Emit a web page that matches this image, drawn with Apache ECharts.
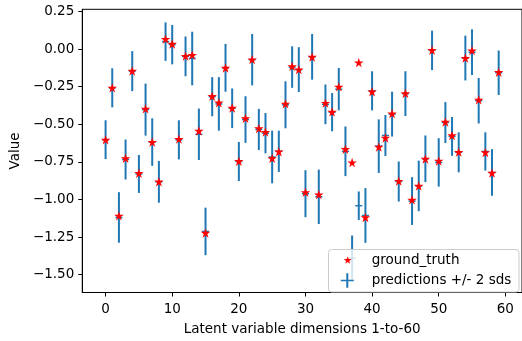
<!DOCTYPE html>
<html><head><meta charset="utf-8">
<script src="https://cdn.jsdelivr.net/npm/echarts@6/dist/echarts.min.js"></script>
<style>html,body{margin:0;padding:0;background:#fff}#c{width:522px;height:341px}</style>
</head><body><div id="c"></div>
<script>
const dims = [0,1,2,3,4,5,6,7,8,9,10,11,12,13,14,15,16,17,18,19,20,21,22,23,24,25,26,27,28,29,
  30,31,32,33,34,35,36,37,38,39,40,41,42,43,44,45,46,47,48,49,50,51,52,53,54,55,56,57,58,59];
const xTicks = [0,10,20,30,40,50,60];
const yTicks = [-1.5,-1.25,-1,-0.75,-0.5,-0.25,0,0.25];
const groundTruth = [-0.604,-0.258,-1.109,-0.727,-0.146,-0.826,-0.398,-0.619,-0.882,0.066,
  0.034,-0.599,-0.047,-0.04,-0.545,-1.223,-0.314,-0.357,-0.126,-0.392,
  -0.746,-0.461,-0.07,-0.528,-0.552,-0.727,-0.683,-0.364,-0.115,-0.137,
  -0.953,-0.053,-0.968,-0.359,-0.418,-0.251,-0.666,-0.755,-0.09,-1.12,
  -0.284,-0.651,-0.591,-0.429,-0.878,-0.295,-1.003,-0.91,-0.731,-0.008,
  -0.744,-0.485,-0.575,-0.685,-0.06,-0.01,-0.338,-0.688,-0.824,-0.154];
const predMean = [-0.603,-0.258,-1.12,-0.735,-0.147,-0.831,-0.403,-0.619,-0.883,0.049,
  0.029,-0.604,-0.049,-0.063,-0.567,-1.213,-0.317,-0.365,-0.125,-0.394,
  -0.748,-0.469,-0.071,-0.535,-0.56,-0.718,-0.68,-0.371,-0.12,-0.137,
  -0.962,-0.052,-0.983,-0.368,-0.42,-0.267,-0.68,-1.39,-1.042,-1.107,
  -0.278,-0.646,-0.575,-0.433,-0.881,-0.297,-1.011,-0.91,-0.73,-0.009,
  -0.754,-0.489,-0.581,-0.687,-0.06,-0.021,-0.344,-0.681,-0.821,-0.158];
const predTwoSd = [0.129,0.130,0.168,0.133,0.133,0.126,0.173,0.158,0.139,0.128,
  0.131,0.130,0.132,0.178,0.171,0.158,0.130,0.178,0.159,0.132,
  0.130,0.155,0.171,0.137,0.134,0.175,0.137,0.156,0.138,0.149,
  0.156,0.152,0.181,0.132,0.127,0.141,0.165,0.150,0.095,0.182,
  0.130,0.178,0.136,0.149,0.133,0.149,0.159,0.168,0.155,0.131,
  0.161,0.136,0.129,0.133,0.149,0.152,0.151,0.127,0.155,0.148];

const FONT = 'DejaVu Sans';
const STAR = 'path://M50,0 L61.23,34.55 L97.55,34.55 L68.17,55.9 L79.39,90.45 L50,69.1 L20.61,90.45 L31.83,55.9 L2.45,34.55 L38.77,34.55 Z';
const PLUS_LEG = 'path://M43,0 L57,0 L57,100 L43,100 Z M5,45 L95,45 L95,55 L5,55 Z';
const BLUE = '#1f77b4';

const chart = echarts.init(document.getElementById('c'), null, {renderer: 'canvas'});
const txt = {fontFamily: FONT, fontSize: 13.5, color: '#000'};
chart.setOption({
  animation: false,
  backgroundColor: '#fff',
  grid: {left: 79, top: 9.3, width: 447.3, height: 290, show: true, borderColor: '#000', borderWidth: 1, backgroundColor: 'transparent'},
  xAxis: {
    type: 'value', min: -3.5, max: 62.5,
    name: 'Latent variable dimensions 1-to-60', nameLocation: 'middle', nameGap: 29.5, nameTextStyle: txt,
    axisLine: {onZero: false, lineStyle: {color: '#000', width: 1}},
    axisTick: {customValues: xTicks, length: 4, lineStyle: {color: '#000', width: 1}},
    axisLabel: Object.assign({customValues: xTicks, margin: 9.5}, txt),
    splitLine: {show: false}
  },
  yAxis: {
    type: 'value', min: -1.619, max: 0.264,
    name: 'Value', nameLocation: 'middle', nameGap: 56, nameTextStyle: txt,
    axisLine: {show: true, onZero: false, lineStyle: {color: '#000', width: 1}},
    axisTick: {show: true, customValues: yTicks, length: 4, lineStyle: {color: '#000', width: 1}},
    axisLabel: Object.assign({customValues: yTicks, margin: 8,
      formatter: v => (v < -1e-9 ? '\u2212' : '') + Math.abs(v).toFixed(2)}, txt),
    splitLine: {show: false}
  },
  graphic: [{
    type: 'rect', z: 3.5, silent: true,
    shape: {x: 328.5, y: 249.5, width: 190.5, height: 42.5, r: 3},
    style: {fill: 'rgba(255,255,255,0.8)', stroke: '#cccccc', lineWidth: 1}
  }],
  legend: [
    {
      orient: 'vertical', left: 343.7, top: 252, itemWidth: 8, itemHeight: 8, padding: 0,
      itemStyle: {borderWidth: 0},
      textStyle: Object.assign({padding: [0, 0, 0, 15], lineHeight: 16}, txt),
      data: [{name: 'ground_truth', icon: STAR}]
    },
    {
      orient: 'vertical', left: 340.8, top: 272.5, itemWidth: 13, itemHeight: 15, padding: 0,
      itemStyle: {borderWidth: 0},
      textStyle: Object.assign({padding: [0, 0, 0, 12.9], lineHeight: 16}, txt),
      data: [{name: 'predictions +/- 2 sds', icon: PLUS_LEG}]
    }
  ],
  series: [
    {
      name: 'predictions +/- 2 sds', type: 'custom', z: 2,
      itemStyle: {color: BLUE},
      data: dims.map((d, i) => [d, predMean[i], predTwoSd[i]]),
      encode: {x: 0, y: 1},
      renderItem: function (params, api) {
        const x = api.value(0), m = api.value(1), h = api.value(2);
        const t = api.coord([x, m + h]), b = api.coord([x, m - h]), c = api.coord([x, m]);
        return {type: 'group', children: [
          {type: 'line', shape: {x1: t[0], y1: t[1], x2: b[0], y2: b[1]}, style: {stroke: BLUE, lineWidth: 2}},
          {type: 'line', shape: {x1: c[0] - 3.5, y1: c[1], x2: c[0] + 3.5, y2: c[1]}, style: {stroke: BLUE, lineWidth: 1.5}}
        ]};
      }
    },
    {
      name: 'ground_truth', type: 'scatter', z: 3,
      symbol: STAR, symbolSize: 9.5,
      itemStyle: {color: '#ff0000', borderWidth: 0, opacity: 1},
      data: dims.map((d, i) => [d, groundTruth[i]])
    }
  ]
});
</script>
</body></html>
